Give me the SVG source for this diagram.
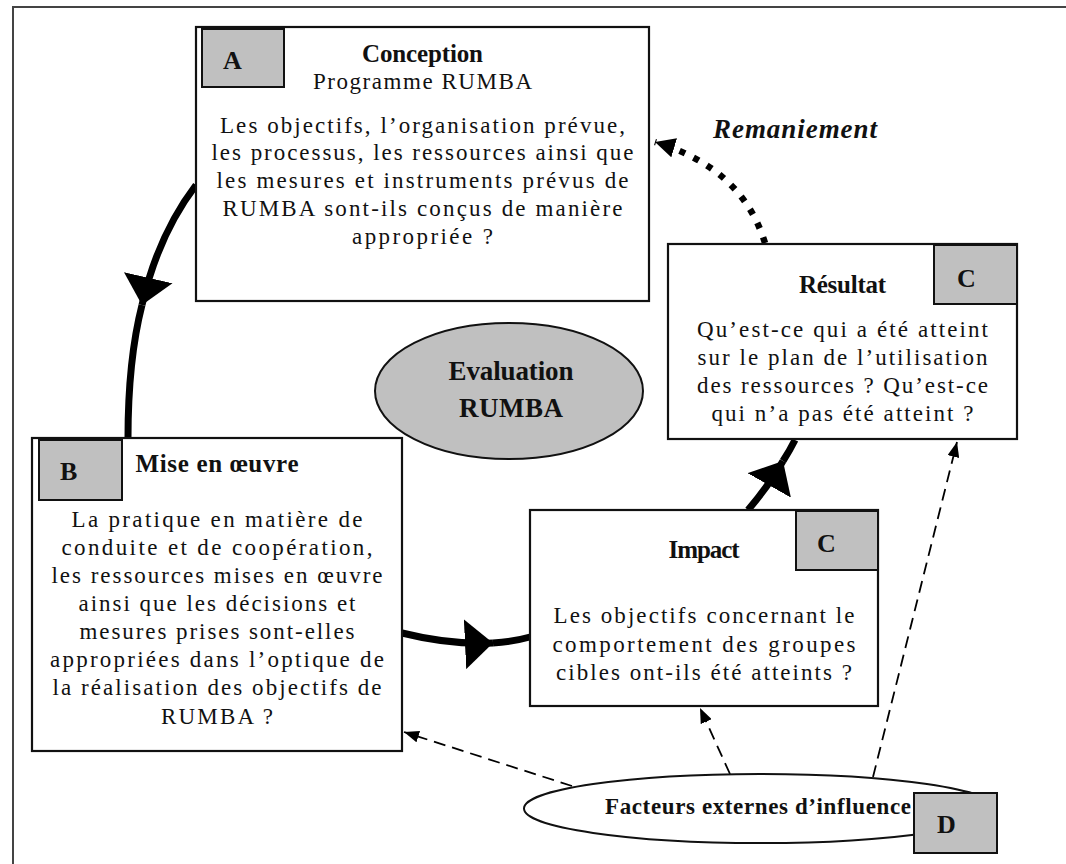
<svg xmlns="http://www.w3.org/2000/svg" width="1066" height="864" viewBox="0 0 1066 864">
<style>
.box{fill:#fff;stroke:#111;stroke-width:2.2}
.tag{fill:#c0c0c0;stroke:#111;stroke-width:2}
.t{font-family:"Liberation Serif","Times New Roman",serif;fill:#111}
.body{font-size:23px;text-anchor:middle}
.title{font-size:25px;font-weight:bold;text-anchor:middle}
.letter{font-size:26px;font-weight:bold}
.thick{fill:none;stroke:#000;stroke-width:7}
.dash{fill:none;stroke:#000;stroke-width:1.8;stroke-dasharray:12 7}
.dots{fill:none;stroke:#000;stroke-width:6.5;stroke-dasharray:6 9.5}
</style>
<defs>
<marker id="big" markerUnits="userSpaceOnUse" markerWidth="28" markerHeight="50" viewBox="0 0 27 48" refX="27" refY="24" orient="auto">
<path d="M0,0 L27,24 L0,48 z" fill="#000"/>
</marker>
<marker id="mid" markerUnits="userSpaceOnUse" markerWidth="20" markerHeight="20" viewBox="0 0 19 19" refX="19" refY="9.5" orient="auto">
<path d="M0,0 L19,9.5 L0,19 z" fill="#000"/>
</marker>
<marker id="small" markerUnits="userSpaceOnUse" markerWidth="15" markerHeight="12" viewBox="0 0 15 12" refX="15" refY="6" orient="auto">
<path d="M0,0 L15,6 L0,12 z" fill="#000"/>
</marker>
</defs>
<rect x="13" y="7" width="1100" height="900" fill="#fff" stroke="#444" stroke-width="2"/>

<g id="connectors">
<path class="thick" d="M196,185 Q158,235 142,305" marker-end="url(#big)"/>
<path class="thick" d="M142,305 Q128,360 128,438"/>
<path class="thick" d="M402,633 Q450,645 493,643" marker-end="url(#big)"/>
<path class="thick" d="M493,643 Q512,642 530,637"/>
<path class="thick" d="M748,510 Q770,484 783,461" marker-end="url(#big)"/>
<path class="thick" d="M783,461 Q790,450 795,440"/>
<path class="dots" d="M765,243 Q742,168 655,142" marker-end="url(#mid)"/>
<path class="dash" d="M572,786 L404,732" marker-end="url(#small)"/>
<path class="dash" d="M730,774 L700,708" marker-end="url(#small)"/>
<path class="dash" d="M873,777 L957,442" marker-end="url(#small)"/>
<text class="t" x="795" y="138" font-size="27" font-weight="bold" font-style="italic" text-anchor="middle" textLength="164">Remaniement</text>
</g>

<g id="nodeA">
<rect class="box" x="196" y="27" width="453" height="274"/>
<rect class="tag" x="202" y="29" width="82" height="58"/>
<text class="t letter" x="223" y="69">A</text>
<text class="t title" x="422.5" y="62" textLength="121">Conception</text>
<text class="t body" x="422.5" y="89" textLength="219">Programme RUMBA</text>
<text class="t body" x="422.5" y="133" textLength="405">Les objectifs, l’organisation prévue,</text>
<text class="t body" x="422.5" y="160" textLength="422">les processus, les ressources ainsi que</text>
<text class="t body" x="422.5" y="188" textLength="412">les mesures et instruments prévus de</text>
<text class="t body" x="422.5" y="216" textLength="400">RUMBA sont-ils conçus de manière</text>
<text class="t body" x="422.5" y="244" textLength="141">appropriée ?</text>
</g>

<g id="nodeResultat">
<rect class="box" x="668" y="244" width="349" height="195"/>
<rect class="tag" x="934" y="245" width="83" height="59"/>
<text class="t letter" x="957" y="287">C</text>
<text class="t title" x="842.5" y="293" textLength="87">Résultat</text>
<text class="t body" x="842.5" y="337" textLength="291">Qu’est-ce qui a été atteint</text>
<text class="t body" x="842.5" y="365" textLength="290">sur le plan de l’utilisation</text>
<text class="t body" x="842.5" y="393" textLength="291">des ressources ? Qu’est-ce</text>
<text class="t body" x="842.5" y="421" textLength="262">qui n’a pas été atteint ?</text>
</g>

<g id="nodeEvaluation">
<ellipse cx="509" cy="391" rx="134" ry="68" fill="#c0c0c0" stroke="#111" stroke-width="2"/>
<text class="t" x="511" y="380" font-size="27" font-weight="bold" text-anchor="middle" textLength="125">Evaluation</text>
<text class="t" x="511" y="417" font-size="27" font-weight="bold" text-anchor="middle" textLength="104">RUMBA</text>
</g>

<g id="nodeB">
<rect class="box" x="32" y="438" width="370" height="313"/>
<rect class="tag" x="39" y="440" width="83" height="60"/>
<text class="t letter" x="60" y="480">B</text>
<text class="t title" x="217" y="472" textLength="163">Mise en œuvre</text>
<text class="t body" x="217" y="527" textLength="291">La pratique en matière de</text>
<text class="t body" x="217" y="555" textLength="311">conduite et de coopération,</text>
<text class="t body" x="217" y="583" textLength="331">les ressources mises en œuvre</text>
<text class="t body" x="217" y="611" textLength="277">ainsi que les décisions et</text>
<text class="t body" x="217" y="639" textLength="275">mesures prises sont-elles</text>
<text class="t body" x="217" y="667" textLength="334">appropriées dans l’optique de</text>
<text class="t body" x="217" y="695" textLength="329">la réalisation des objectifs de</text>
<text class="t body" x="217" y="724" textLength="112">RUMBA ?</text>
</g>

<g id="nodeImpact">
<rect class="box" x="530" y="510" width="348" height="196"/>
<rect class="tag" x="796" y="511" width="82" height="59"/>
<text class="t letter" x="817" y="552">C</text>
<text class="t title" x="704" y="558" textLength="71">Impact</text>
<text class="t body" x="704" y="623" textLength="301">Les objectifs concernant le</text>
<text class="t body" x="704" y="651.5" textLength="303">comportement des groupes</text>
<text class="t body" x="704" y="680" textLength="296">cibles ont-ils été atteints ?</text>
</g>

<g id="nodeFacteurs">
<ellipse cx="760" cy="808.5" rx="236" ry="34.5" fill="#fff" stroke="#111" stroke-width="2"/>
<text class="t" x="758" y="814" font-size="23" font-weight="bold" text-anchor="middle" textLength="306">Facteurs externes d’influence</text>
<rect class="tag" x="914" y="793" width="83" height="60"/>
<text class="t letter" x="937" y="833">D</text>
</g>
</svg>
